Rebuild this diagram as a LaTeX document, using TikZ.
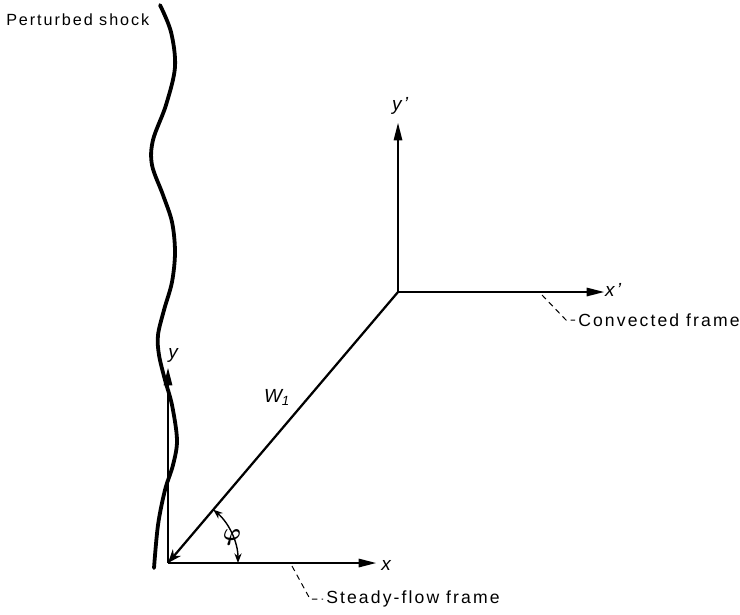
\documentclass[tikz,border=0pt]{standalone}
\usepackage{fontspec}
\setmainfont{Liberation Sans}[LetterSpace=12]
\usetikzlibrary{arrows.meta, positioning}
\tikzset{
  axis/.style     ={line width=2.1pt, -{Triangle[length=4.6mm, width=2mm]}},
  wvec/.style     ={line width=1.6pt, -{Stealth[length=3.4mm, width=2.6mm]}},
  shock/.style    ={line width=2.7pt, line cap=round},
  leader/.style   ={line width=0.7pt, dash pattern=on 4pt off 3pt, shorten >=2pt},
  anglearc/.style ={line width=1pt, {Stealth[length=2.4mm, width=1.8mm]}-{Stealth[length=2.4mm, width=1.8mm]}},
  lbl/.style      ={font=\fontsize{11.5}{13}\selectfont, inner sep=0pt},
  framelbl/.style ={font=\fontsize{12.5}{14}\selectfont, inner sep=0pt, anchor=west},
  axlbl/.style    ={font=\fontsize{13.5}{15}\selectfont\itshape, inner sep=0pt},
}

\begin{document}
\begin{tikzpicture}[x=0.025cm, y=-0.025cm]
  \useasboundingbox (0,0) rectangle (740,614);
  % steady-flow frame
  \coordinate (o)     at (168,563);
  \coordinate (xend)  at (377,563);
  \coordinate (yend)  at (168,367);
  % convected frame
  \coordinate (op)    at (398,292);
  \coordinate (xpend) at (605,292);
  \coordinate (ypend) at (398,122);
  \draw[axis] (o) -- (xend);
  \draw[axis] (o) -- (yend);
  \draw[axis] (op) -- (xpend);
  \draw[axis] (op) -- (ypend);
  \draw[wvec] (op) -- (o);
  % angle between W_1 and x
  \coordinate (phis) at (238,563);
  \draw[anglearc] (phis) arc[start angle=0, end angle=-49.7, radius=70];
  \node[inner sep=0pt, font=\fontsize{19}{21}\selectfont\boldmath] (phi) at (232,537) {$\varphi$};
  % the shock front
  \draw[shock] plot[smooth, tension=0.55] coordinates {(160,5) (171,32) (175,67) (166,105) (153,140) (152,165) (163,195) (172,222) (175,252) (172,282) (164,310) (158,335) (159,355) (165,380) (172,405) (177,440) (173,465) (165,490) (158,525) (154,568)};
  \node[lbl, anchor=west] (shocklbl) at (6,20) {Perturbed shock};
  % axis labels
  \node[axlbl] (ylbl)  at (173,355) {y};
  \node[axlbl] (xlbl)  at (386,565) {x};
  \node[axlbl] (xplbl) at (613,290) {x'};
  \node[axlbl] (yplbl) at (400,106) {y'};
  \node[axlbl] (wlbl)  at (277,397) {W\textsubscript{1}};
  % leaders
  \coordinate (sfa) at (292,566);
  \coordinate (sfb) at (310,599);
  \node[framelbl] (sflbl) at (326,599) {Steady-flow frame};
  \draw[leader] (sfa) -- (sfb) -- (sflbl.west);
  \coordinate (cfa) at (542,295);
  \coordinate (cfb) at (566,320);
  \node[framelbl] (cflbl) at (578,320) {Convected frame};
  \draw[leader] (cfa) -- (cfb) -- (cflbl.west);
\end{tikzpicture}
\end{document}
